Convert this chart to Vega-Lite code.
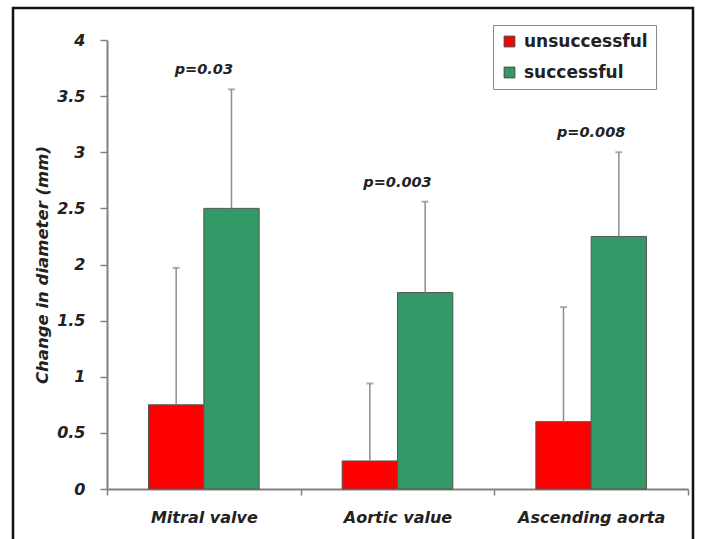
{
  "$schema": "https://vega.github.io/schema/vega-lite/v6.json",
  "width": 680,
  "height": 540,
  "autosize": {"type": "none"},
  "padding": {"left": 13, "top": 8, "right": 8, "bottom": 0},
  "background": "white",
  "config": {
    "view": {"stroke": "#111111", "strokeWidth": 2.5},
    "font": "DejaVu Sans"
  },
  "data": {
    "values": [
      {"site": "Mitral valve", "group": "unsuccessful", "mean": 0.75, "upper": 1.97, "p": ""},
      {"site": "Mitral valve", "group": "successful", "mean": 2.5, "upper": 3.56, "p": "p=0.03"},
      {"site": "Aortic value", "group": "unsuccessful", "mean": 0.25, "upper": 0.94, "p": ""},
      {"site": "Aortic value", "group": "successful", "mean": 1.75, "upper": 2.56, "p": "p=0.003"},
      {"site": "Ascending aorta", "group": "unsuccessful", "mean": 0.6, "upper": 1.62, "p": ""},
      {"site": "Ascending aorta", "group": "successful", "mean": 2.25, "upper": 3.0, "p": "p=0.008"}
    ]
  },
  "encoding": {
    "x": {
      "field": "site",
      "type": "nominal",
      "sort": ["Mitral valve", "Aortic value", "Ascending aorta"],
      "scale": {"range": [94, 675], "paddingInner": 0, "paddingOuter": 0},
      "axis": {
        "title": null,
        "orient": "bottom",
        "offset": -59,
        "labelAngle": 0,
        "labelFont": "DejaVu Sans",
        "labelFontSize": 16,
        "labelFontWeight": "bold",
        "labelFontStyle": "italic",
        "labelColor": "#222222",
        "labelPadding": 14,
        "tickBand": "extent",
        "tickSize": 6,
        "tickColor": "#808080",
        "tickWidth": 1.5,
        "domainColor": "#808080",
        "domainWidth": 2,
        "grid": false
      }
    }
  },
  "layer": [
    {
      "mark": {"type": "bar", "stroke": "#555555", "strokeWidth": 1},
      "encoding": {
        "xOffset": {"field": "group", "type": "nominal", "sort": ["unsuccessful", "successful"], "scale": {"paddingInner": 0, "paddingOuter": 0.75}},
        "y": {
          "field": "mean",
          "type": "quantitative",
          "scale": {"domain": [0, 4], "range": [481, 32], "nice": false},
          "axis": {
            "title": "Change in diameter (mm)",
            "orient": "left",
            "offset": -94,
            "values": [0, 0.5, 1, 1.5, 2, 2.5, 3, 3.5, 4],
            "format": "~g",
            "grid": false,
            "labelFont": "DejaVu Sans",
            "labelFontSize": 16,
            "labelFontWeight": "bold",
            "labelFontStyle": "italic",
            "labelColor": "#222222",
            "labelPadding": 15,
            "tickSize": 7,
            "tickColor": "#808080",
            "tickWidth": 1.5,
            "domainColor": "#808080",
            "domainWidth": 2,
            "titleFont": "DejaVu Sans",
            "titleFontSize": 16.5,
            "titleFontWeight": "bold",
            "titleFontStyle": "italic",
            "titleColor": "#222222",
            "titlePadding": 6
          }
        },
        "color": {
          "field": "group",
          "type": "nominal",
          "scale": {"domain": ["unsuccessful", "successful"], "range": ["#ff0000", "#339966"]},
          "legend": {
            "title": null,
            "orient": "none",
            "legendX": 480,
            "legendY": 17,
            "fillColor": "white",
            "strokeColor": "#8a8a8a",
            "padding": 8,
            "symbolType": "square",
            "symbolSize": 115,
            "symbolStrokeColor": "#444444",
            "symbolStrokeWidth": 1,
            "labelFont": "DejaVu Sans",
            "labelFontSize": 17,
            "labelFontWeight": "bold",
            "labelColor": "#222222",
            "labelOffset": 6,
            "rowPadding": 13
          }
        }
      }
    },
    {
      "mark": {"type": "rule", "color": "#8c8c8c", "strokeWidth": 1.5},
      "encoding": {
        "xOffset": {"field": "group", "type": "nominal", "sort": ["unsuccessful", "successful"]},
        "y": {"field": "mean", "type": "quantitative"},
        "y2": {"field": "upper"}
      }
    },
    {
      "mark": {"type": "tick", "orient": "horizontal", "color": "#8c8c8c", "size": 7, "thickness": 2},
      "encoding": {
        "xOffset": {"field": "group", "type": "nominal", "sort": ["unsuccessful", "successful"]},
        "y": {"field": "upper", "type": "quantitative"}
      }
    },
    {
      "transform": [{"filter": "datum.group === 'successful'"}],
      "mark": {"type": "text", "font": "DejaVu Sans", "fontSize": 14.5, "fontWeight": "bold", "fontStyle": "italic", "color": "#222222", "baseline": "middle", "dy": -19},
      "encoding": {
        "y": {"field": "upper", "type": "quantitative"},
        "text": {"field": "p"}
      }
    }
  ]
}
